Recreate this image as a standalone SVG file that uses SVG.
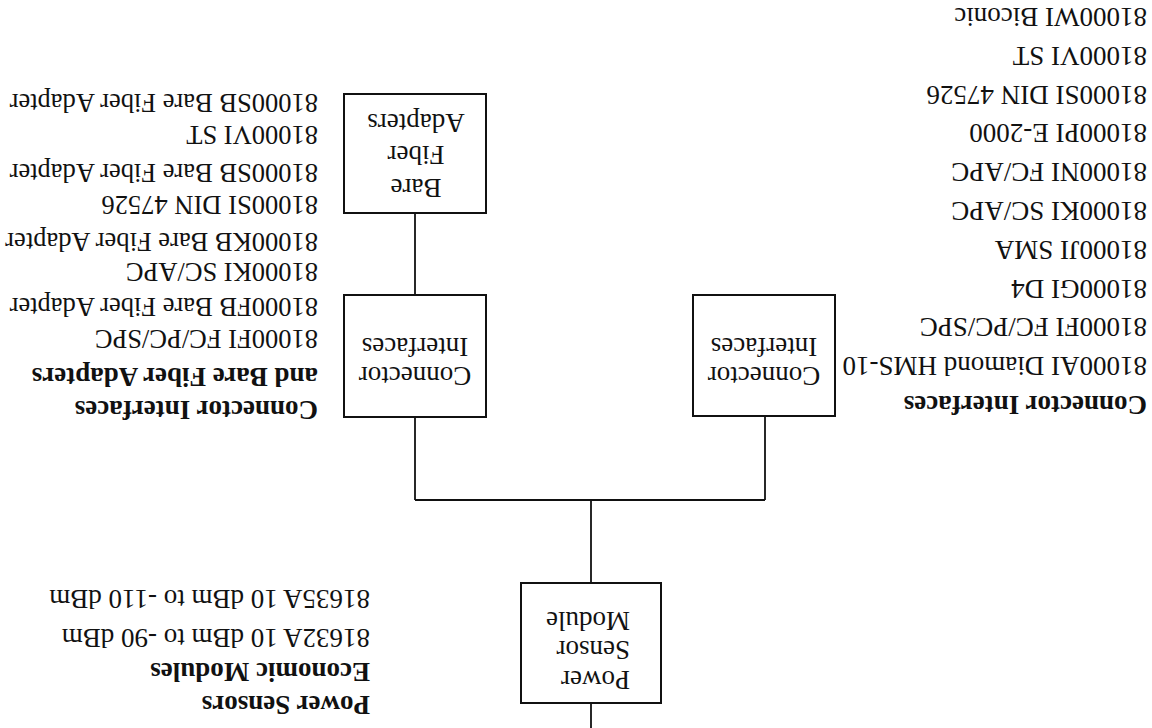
<svg xmlns="http://www.w3.org/2000/svg" width="1152" height="728" viewBox="0 0 1152 728">
<style>
  .bg{fill:#fff}
  text{font-family:"Liberation Serif","Times New Roman",serif;font-size:27px;fill:#111}
  .b{font-weight:bold}
  .c{text-anchor:middle}
  .s{font-size:26.5px}
  .box{fill:#fff;stroke:#111;stroke-width:2}
  .ln{fill:none;stroke:#111;stroke-width:1.8}
</style>
<rect class="bg" x="0" y="0" width="1152" height="728"/>
<g transform="rotate(180 576 364)">
  <g id="connectors">
    <line class="ln" x1="561" y1="0" x2="561" y2="25"/>
    <line class="ln" x1="561" y1="145" x2="561" y2="228"/>
    <line class="ln" x1="387" y1="228" x2="737" y2="228"/>
    <line class="ln" x1="387" y1="228" x2="387" y2="312"/>
    <line class="ln" x1="737" y1="228" x2="737" y2="311"/>
    <line class="ln" x1="737" y1="433" x2="737" y2="515"/>
  </g>
  <g id="power-sensor-module">
    <rect class="box" x="491" y="25" width="140" height="120"/>
    <text x="522" y="57">Power</text>
    <text x="522" y="87">Sensor</text>
    <text x="522" y="116">Module</text>
  </g>
  <g id="connector-interfaces-1">
    <rect class="box" x="317" y="312" width="142" height="121"/>
    <text class="c" x="388" y="361">Connector</text>
    <text class="c" x="388" y="390">Interfaces</text>
  </g>
  <g id="connector-interfaces-2">
    <rect class="box" x="666" y="311" width="142" height="122"/>
    <text class="c" x="737" y="361">Connector</text>
    <text class="c" x="737" y="390">Interfaces</text>
  </g>
  <g id="bare-fiber-adapters">
    <rect class="box" x="666" y="515" width="142" height="119"/>
    <text class="c" x="736" y="549">Bare</text>
    <text class="c" x="736" y="582">Fiber</text>
    <text class="c" x="736" y="614">Adapters</text>
  </g>
  <g id="power-sensors-list">
    <text class="b" x="782" y="32">Power Sensors</text>
    <text class="b" x="782" y="65">Economic Modules</text>
    <text x="782" y="99">81632A 10 dBm to -90 dBm</text>
    <text x="782" y="138">81635A 10 dBm to -110 dBm</text>
  </g>
  <g id="connector-interfaces-list">
    <text class="b" x="5" y="332">Connector Interfaces</text>
    <text x="5" y="371">81000AI Diamond HMS-10</text>
    <text x="5" y="410">81000FI FC/PC/SPC</text>
    <text x="5" y="448">81000GI D4</text>
    <text x="5" y="487">81000JI SMA</text>
    <text x="5" y="526">81000KI SC/APC</text>
    <text x="5" y="565">81000NI FC/APC</text>
    <text x="5" y="604">81000PI E-2000</text>
    <text x="5" y="642">81000SI DIN 47526</text>
    <text x="5" y="681">81000VI ST</text>
    <text x="5" y="720">81000WI Biconic</text>
  </g>
  <g id="bare-fiber-list">
    <text class="b" x="834" y="327">Connector Interfaces</text>
    <text class="b" x="834" y="360">and Bare Fiber Adapters</text>
    <text class="s" x="834" y="398">81000FI FC/PC/SPC</text>
    <text class="s" x="834" y="430">81000FB Bare Fiber Adapter</text>
    <text class="s" x="834" y="465">81000KI SC/APC</text>
    <text class="s" x="834" y="495">81000KB Bare Fiber Adapter</text>
    <text class="s" x="834" y="532">81000SI DIN 47526</text>
    <text class="s" x="834" y="564">81000SB Bare Fiber Adapter</text>
    <text class="s" x="834" y="602">81000VI ST</text>
    <text class="s" x="834" y="634">81000SB Bare Fiber Adapter</text>
  </g>
</g>
</svg>
